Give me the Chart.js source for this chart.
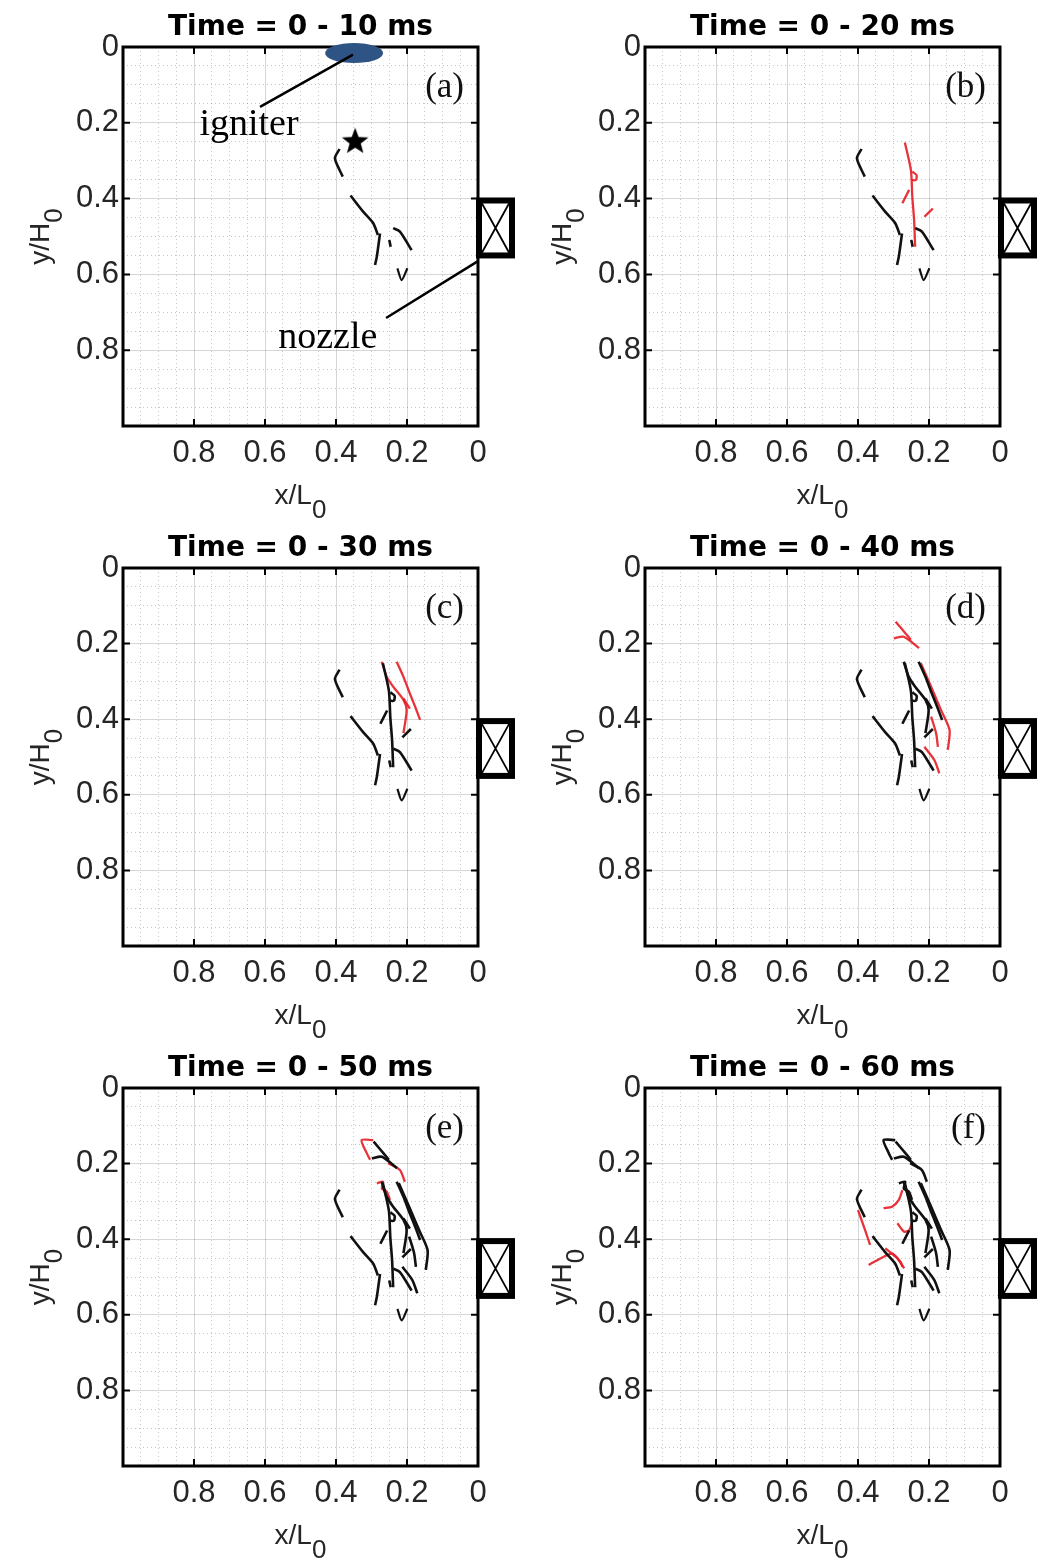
<!DOCTYPE html>
<html>
<head>
<meta charset="utf-8">
<script src="https://cdn.jsdelivr.net/npm/chart.js@4.4.0/dist/chart.umd.min.js"></script>
<style>
  body { margin: 0; background: #fff; width: 1043px; height: 1562px; position: relative; overflow: hidden; }
</style>
</head>
<body>
<script>
// panel texts
const titles = ['Time = 0 - 10 ms', 'Time = 0 - 20 ms', 'Time = 0 - 30 ms',
                'Time = 0 - 40 ms', 'Time = 0 - 50 ms', 'Time = 0 - 60 ms'];
const letters = ['(a)', '(b)', '(c)', '(d)', '(e)', '(f)'];
const xTickLabels = [0.8, 0.6, 0.4, 0.2, 0];
const yTickLabels = [0, 0.2, 0.4, 0.6, 0.8];

// flame front segments [x/L0, y/H0], one array per 10 ms step
const front10 = [
  [[0.390, 0.269], [0.403, 0.294], [0.381, 0.342]],
  [[0.359, 0.392], [0.323, 0.435], [0.295, 0.465], [0.282, 0.496]],
  [[0.276, 0.492], [0.285, 0.553], [0.290, 0.575]],
  [[0.239, 0.478], [0.220, 0.487], [0.187, 0.536]],
  [[0.250, 0.509], [0.246, 0.527]]
];
const front20 = [
  [[0.268, 0.252], [0.251, 0.325], [0.247, 0.395], [0.242, 0.456], [0.239, 0.527]],
  [[0.247, 0.329], [0.235, 0.338], [0.237, 0.351], [0.249, 0.351]],
  [[0.275, 0.412], [0.256, 0.377]],
  [[0.213, 0.448], [0.189, 0.426]]
];
const front30 = [
  [[0.271, 0.248], [0.257, 0.288], [0.239, 0.314], [0.210, 0.349], [0.201, 0.376], [0.210, 0.437]],
  [[0.229, 0.248], [0.210, 0.288], [0.192, 0.332], [0.177, 0.367], [0.163, 0.402]],
  [[0.210, 0.345], [0.192, 0.372]]
];
const front40 = [
  [[0.294, 0.142], [0.266, 0.173], [0.251, 0.190]],
  [[0.299, 0.186], [0.271, 0.182], [0.228, 0.212]],
  [[0.223, 0.252], [0.194, 0.314], [0.166, 0.376], [0.142, 0.429], [0.147, 0.481]],
  [[0.194, 0.393], [0.180, 0.437], [0.175, 0.473]],
  [[0.213, 0.473], [0.185, 0.508], [0.171, 0.543]]
];
const front50 = [
  [[0.295, 0.138], [0.328, 0.138], [0.313, 0.173], [0.304, 0.190]],
  [[0.253, 0.199], [0.220, 0.217], [0.206, 0.248]],
  [[0.285, 0.252], [0.267, 0.248], [0.271, 0.266], [0.257, 0.274], [0.248, 0.296]]
];
const front60 = [
  [[0.275, 0.270], [0.285, 0.296], [0.304, 0.314], [0.328, 0.318]],
  [[0.400, 0.323], [0.380, 0.376], [0.366, 0.415]],
  [[0.370, 0.468], [0.337, 0.451], [0.304, 0.438], [0.280, 0.460], [0.275, 0.473]],
  [[0.323, 0.424], [0.289, 0.451], [0.270, 0.477]],
  [[0.289, 0.358], [0.270, 0.380], [0.256, 0.376], [0.247, 0.354]]
];
const fronts = [front10, front20, front30, front40, front50, front60];

const vMark = [[0.227, 0.584], [0.215, 0.615], [0.199, 0.584]];
const starPos = [0.346, 0.25];
const igniterPos = [0.349, 0.016];
const igniterLine = [[0.352, 0.02], [0.614, 0.158]];
const igniterText = [0.645, 0.232];
const nozzleLine = [[0.0, 0.565], [0.259, 0.715]];
const nozzleText = [0.423, 0.794];
const nozzleSpan = [0.405, 0.55];

const rowTops = [0, 521, 1041];
const colLefts = [0, 522];
const xAxisH = [94, 95, 95];

const pts = seg => seg.map(([x, y]) => ({ x, y }));
const isMajor = v => Math.abs(Math.round(v * 100) % 20) === 0;

function starImage(r) {
  const c = document.createElement('canvas');
  c.width = c.height = 2 * r + 2;
  const g = c.getContext('2d');
  g.fillStyle = '#000';
  g.beginPath();
  for (let i = 0; i < 10; i++) {
    const a = -Math.PI / 2 + i * Math.PI / 5;
    const rr = i % 2 ? r * 0.42 : r;
    g.lineTo(r + 1 + rr * Math.cos(a), r + 1 + rr * Math.sin(a));
  }
  g.closePath();
  g.fill();
  return c;
}
const star = starImage(14);

function lineDs(seg, color, width) {
  return { data: pts(seg), showLine: true, borderColor: color, borderWidth: width,
           pointRadius: 0, tension: 0.25 };
}

// panel k: earlier fronts in black, the newest one in red (first panel all black)
function panelDatasets(k) {
  const ds = [];
  const nBlack = k === 0 ? 1 : k;
  fronts.slice(0, nBlack).forEach(f => f.forEach(seg => ds.push(lineDs(seg, '#111', 2.6))));
  ds.push(lineDs(vMark, '#111', 2.2));
  if (k > 0) fronts[k].forEach(seg => ds.push(lineDs(seg, 'rgba(228,30,38,0.9)', 2.3)));
  if (k === 0) {
    ds.push({ data: [{ x: starPos[0], y: starPos[1] }], pointStyle: star, pointRadius: 14 });
  }
  return ds;
}

const framePlugin = {
  id: 'frame',
  afterDraw(chart, args, opts) {
    const { ctx, chartArea: a, scales: { x, y } } = chart;
    const px = v => x.getPixelForValue(v), py = v => y.getPixelForValue(v);
    ctx.save();
    ctx.strokeStyle = '#000';
    // inward ticks
    ctx.lineWidth = 2;
    ctx.beginPath();
    xTickLabels.forEach(v => {
      ctx.moveTo(px(v), a.bottom); ctx.lineTo(px(v), a.bottom - 7);
      ctx.moveTo(px(v), a.top); ctx.lineTo(px(v), a.top + 7);
    });
    yTickLabels.forEach(v => {
      ctx.moveTo(a.left, py(v)); ctx.lineTo(a.left + 7, py(v));
      ctx.moveTo(a.right, py(v)); ctx.lineTo(a.right - 7, py(v));
    });
    ctx.stroke();
    // box
    ctx.lineWidth = 3;
    ctx.strokeRect(a.left, a.top, a.right - a.left, a.bottom - a.top);
    // nozzle
    const n0 = py(nozzleSpan[0]), n1 = py(nozzleSpan[1]);
    const nx0 = a.right + 1, nx1 = a.right + 34;
    ctx.lineWidth = 6;
    ctx.strokeRect(nx0, n0, nx1 - nx0, n1 - n0);
    ctx.lineWidth = 1.8;
    ctx.beginPath();
    ctx.moveTo(nx0 + 3, n0 + 3); ctx.lineTo(nx1 - 3, n1 - 3);
    ctx.moveTo(nx1 - 3, n0 + 3); ctx.lineTo(nx0 + 3, n1 - 3);
    ctx.stroke();
    // axis labels with subscript
    ctx.fillStyle = '#262626';
    ctx.textBaseline = 'alphabetic';
    const main = '28px "Liberation Sans"', sub = '26px "Liberation Sans"';
    ctx.font = main;
    const wx = ctx.measureText('x/L').width;
    ctx.font = sub;
    const ws = ctx.measureText('0').width;
    const cx = (a.left + a.right) / 2 - (wx + ws) / 2;
    ctx.textAlign = 'left';
    ctx.font = main; ctx.fillText('x/L', cx, a.bottom + 78);
    ctx.font = sub; ctx.fillText('0', cx + wx, a.bottom + 92);
    ctx.font = main;
    const wy = ctx.measureText('y/H').width;
    ctx.save();
    ctx.translate(a.left - 74, (a.top + a.bottom) / 2 + (wy + ws) / 2);
    ctx.rotate(-Math.PI / 2);
    ctx.fillText('y/H', 0, 0);
    ctx.font = sub; ctx.fillText('0', wy, 13);
    ctx.restore();
    // panel letter
    ctx.fillStyle = '#111';
    ctx.font = '35px "Liberation Serif"';
    ctx.textAlign = 'right';
    ctx.fillText(letters[opts.panel], a.right - 14, a.top + 50);
    // igniter / nozzle notes on the first panel
    if (opts.panel === 0) {
      ctx.fillStyle = '#2e5385';
      ctx.beginPath();
      ctx.ellipse(px(igniterPos[0]), py(igniterPos[1]), 29, 10, 0, 0, Math.PI * 2);
      ctx.fill();
      ctx.strokeStyle = '#000';
      ctx.lineWidth = 2.5;
      ctx.beginPath();
      ctx.moveTo(px(igniterLine[0][0]), py(igniterLine[0][1]));
      ctx.lineTo(px(igniterLine[1][0]), py(igniterLine[1][1]));
      ctx.moveTo(px(nozzleLine[0][0]), py(nozzleLine[0][1]));
      ctx.lineTo(px(nozzleLine[1][0]), py(nozzleLine[1][1]));
      ctx.stroke();
      ctx.fillStyle = '#000';
      ctx.font = '38px "Liberation Serif"';
      ctx.textAlign = 'center';
      ctx.fillText('igniter', px(igniterText[0]), py(igniterText[1]));
      ctx.fillText('nozzle', px(nozzleText[0]), py(nozzleText[1]));
    }
    ctx.restore();
  }
};

function axis(labels, fit, pad) {
  return {
    type: 'linear', min: 0, max: 1, reverse: true,
    afterFit: fit,
    border: { display: false, dash: c => (c.tick && isMajor(c.tick.value)) ? [] : [1, 3] },
    grid: {
      drawTicks: false, lineWidth: 1,
      color: c => (c.tick && isMajor(c.tick.value)) ? 'rgba(0,0,0,0.16)' : 'rgba(0,0,0,0.22)'
    },
    ticks: {
      stepSize: 0.05, autoSkip: false, maxRotation: 0, padding: pad, color: '#262626',
      font: { family: 'Liberation Sans', size: 31 },
      callback: v => {
        const lab = labels.find(t => Math.abs(t - v) < 1e-6);
        return lab === undefined ? '' : String(lab);
      }
    }
  };
}

titles.forEach((t, k) => {
  const row = Math.floor(k / 2), col = k % 2;
  const cv = document.createElement('canvas');
  cv.width = 521; cv.height = 520;
  cv.style.cssText = `position:absolute;left:${colLefts[col]}px;top:${rowTops[row]}px`;
  document.body.appendChild(cv);
  new Chart(cv, {
    type: 'scatter',
    data: { datasets: panelDatasets(k) },
    options: {
      responsive: false, animation: false,
      layout: { padding: { left: 0, right: 43, top: 0, bottom: 0 } },
      scales: {
        x: axis(xTickLabels, s => { s.height = xAxisH[row]; }, 9),
        y: axis(yTickLabels, s => { s.width = 123; }, 4)
      },
      plugins: {
        legend: { display: false },
        tooltip: { enabled: false },
        title: {
          display: true, text: t, fullSize: false, color: '#000',
          font: { family: 'DejaVu Sans', weight: 'bold', size: 28, lineHeight: '33px' },
          padding: { top: 11, bottom: 3 }
        },
        frame: { panel: k }
      }
    },
    plugins: [framePlugin]
  });
});
</script>
</body>
</html>
